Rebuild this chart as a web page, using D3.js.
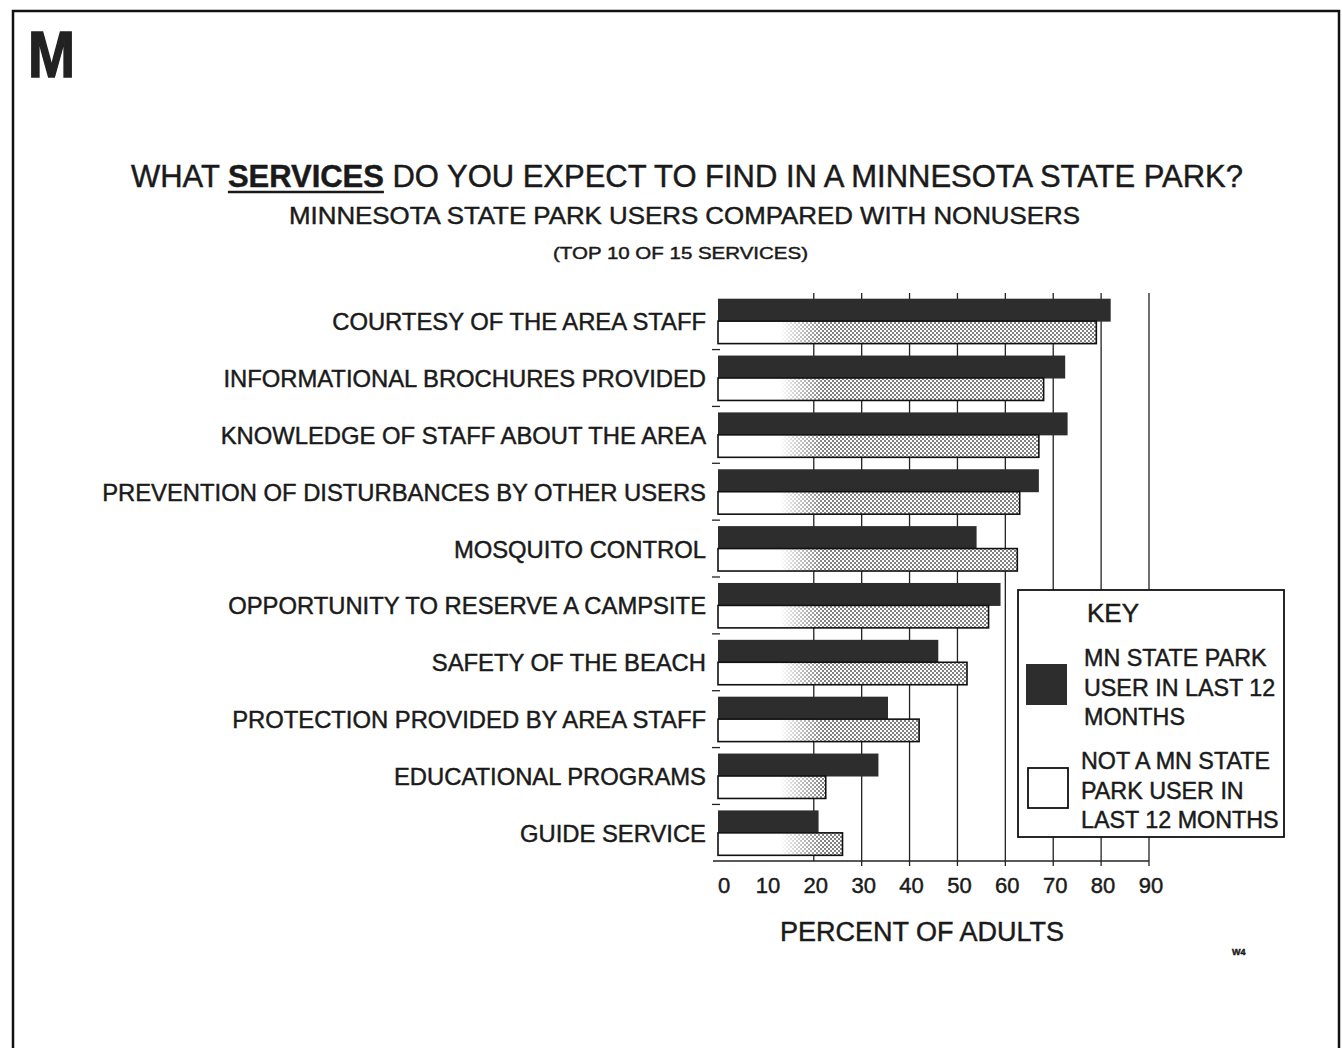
<!DOCTYPE html>
<html>
<head>
<script src="https://cdn.jsdelivr.net/npm/d3@7"></script>
<meta charset="utf-8">
<title>Services expected in a Minnesota state park</title>
<style>
  body { margin: 0; background: #FFF; }
  svg { display: block; }
  text { font-family: "Liberation Sans", Arial, sans-serif; fill: #1a1a1a; stroke: #1a1a1a; stroke-width: 0.45; }
</style>
</head>
<body>
<script>
var categories = [
  'COURTESY OF THE AREA STAFF',
  'INFORMATIONAL BROCHURES PROVIDED',
  'KNOWLEDGE OF STAFF ABOUT THE AREA',
  'PREVENTION OF DISTURBANCES BY OTHER USERS',
  'MOSQUITO CONTROL',
  'OPPORTUNITY TO RESERVE A CAMPSITE',
  'SAFETY OF THE BEACH',
  'PROTECTION PROVIDED BY AREA STAFF',
  'EDUCATIONAL PROGRAMS',
  'GUIDE SERVICE'
];
var users    = [82, 72.5, 73, 67, 54, 59, 46, 35.5, 33.5, 21];   // MN state park user in last 12 months
var nonusers = [79, 68, 67, 63, 62.5, 56.5, 52, 42, 22.5, 26];  // not a MN state park user
var ticks = [0, 10, 20, 30, 40, 50, 60, 70, 80, 90];
var gridTicks = [20, 30, 40, 50, 60, 70, 80, 90];
var keyUser = ['MN STATE PARK', 'USER IN LAST 12', 'MONTHS'];
var keyNon = ['NOT A MN STATE', 'PARK USER IN', 'LAST 12 MONTHS'];

var W = 1342, H = 1048;
var svg = d3.select('body').append('svg').attr('width', W).attr('height', H);

var x = d3.scaleLinear().domain([0, 90]).range([718, 1149]);
var y = d3.scaleBand().domain(categories).range([293, 861]).paddingInner(0.21).paddingOuter(0.1);
var bw = y.bandwidth();
var gap = y.step() - bw;

// defs: stipple + fade mask for the light bars
var defs = svg.append('defs');
var pat = defs.append('pattern').attr('id', 'stip').attr('patternUnits', 'userSpaceOnUse')
  .attr('width', 4).attr('height', 4);
pat.append('circle').attr('cx', 1).attr('cy', 1).attr('r', 0.9).attr('fill', '#444');
pat.append('circle').attr('cx', 3).attr('cy', 3).attr('r', 0.9).attr('fill', '#444');
var grad = defs.append('linearGradient').attr('id', 'fade').attr('gradientUnits', 'userSpaceOnUse')
  .attr('x1', x(13)).attr('x2', x(22)).attr('y1', 0).attr('y2', 0);
grad.append('stop').attr('offset', 0).attr('stop-color', '#000');
grad.append('stop').attr('offset', 1).attr('stop-color', '#fff');
defs.append('mask').attr('id', 'fadeMask').attr('maskUnits', 'userSpaceOnUse')
  .attr('x', 0).attr('y', 0).attr('width', W).attr('height', H)
  .append('rect').attr('width', W).attr('height', H).attr('fill', 'url(#fade)');

// page frame
svg.append('rect').attr('x', 13).attr('y', 11).attr('width', 1326).attr('height', 1100)
  .attr('fill', 'none').attr('stroke', '#111').attr('stroke-width', 2.5);

svg.append('text').attr('x', 28).attr('y', 77).attr('font-size', 64).attr('font-weight', 'bold')
  .attr('textLength', 47).attr('lengthAdjust', 'spacingAndGlyphs')
  .style('fill', '#222').style('stroke', '#222').style('stroke-width', 1.5).text('M');

// titles
var title = svg.append('text').attr('x', 131).attr('y', 187).attr('font-size', 31)
  .attr('textLength', 1112).attr('lengthAdjust', 'spacingAndGlyphs');
title.append('tspan').text('WHAT ');
title.append('tspan').attr('font-weight', 'bold').text('SERVICES');
title.append('tspan').text(' DO YOU EXPECT TO FIND IN A MINNESOTA STATE PARK?');
var tn = title.node();
var ux0 = tn.getStartPositionOfChar(5).x, ux1 = tn.getEndPositionOfChar(12).x;
svg.append('line').attr('x1', ux0).attr('x2', ux1).attr('y1', 192).attr('y2', 192)
  .attr('stroke', '#1a1a1a').attr('stroke-width', 2.5);

svg.append('text').attr('x', 289).attr('y', 224).attr('font-size', 24.5)
  .attr('textLength', 791).attr('lengthAdjust', 'spacingAndGlyphs')
  .text('MINNESOTA STATE PARK USERS COMPARED WITH NONUSERS');
svg.append('text').attr('x', 553).attr('y', 259).attr('font-size', 17)
  .attr('textLength', 255).attr('lengthAdjust', 'spacingAndGlyphs')
  .text('(TOP 10 OF 15 SERVICES)');

// grid lines
svg.append('g').selectAll('line').data(gridTicks).enter().append('line')
  .attr('x1', function(d){ return x(d); }).attr('x2', function(d){ return x(d); })
  .attr('y1', 293).attr('y2', function(d){ return d >= 30 ? 866 : 861; })
  .attr('stroke', '#222').attr('stroke-width', 1.3);

// bottom axis line and left separators
svg.append('line').attr('x1', x(0) - 5).attr('x2', x(90)).attr('y1', 861).attr('y2', 861)
  .attr('stroke', '#222').attr('stroke-width', 1.5);
svg.append('g').selectAll('line').data(categories.slice(1)).enter().append('line')
  .attr('x1', x(0) - 6).attr('x2', x(0) + 2)
  .attr('y1', function(d){ return y(d) - gap / 2; }).attr('y2', function(d){ return y(d) - gap / 2; })
  .attr('stroke', '#222').attr('stroke-width', 1.3);

// bars
var rows = svg.append('g').selectAll('g').data(categories).enter().append('g');
rows.append('rect')
  .attr('x', x(0)).attr('y', function(d){ return y(d); })
  .attr('width', function(d, i){ return x(users[i]) - x(0); })
  .attr('height', bw / 2 + 0.5)
  .attr('fill', '#2d2d2d');
rows.append('rect')
  .attr('x', x(0)).attr('y', function(d){ return y(d) + bw / 2; })
  .attr('width', function(d, i){ return x(nonusers[i]) - x(0); })
  .attr('height', bw / 2)
  .attr('fill', '#fff');
rows.append('rect')
  .attr('x', x(0)).attr('y', function(d){ return y(d) + bw / 2; })
  .attr('width', function(d, i){ return x(nonusers[i]) - x(0); })
  .attr('height', bw / 2)
  .attr('fill', 'url(#stip)').attr('mask', 'url(#fadeMask)');
rows.append('rect')
  .attr('x', x(0)).attr('y', function(d){ return y(d) + bw / 2; })
  .attr('width', function(d, i){ return x(nonusers[i]) - x(0); })
  .attr('height', bw / 2)
  .attr('fill', 'none').attr('stroke', '#111').attr('stroke-width', 1.6);

// category labels
rows.append('text')
  .attr('x', 706).attr('y', function(d){ return y(d) + bw / 2 + 9; })
  .attr('text-anchor', 'end').attr('font-size', 23.8)
  .text(function(d){ return d; });

// tick labels
svg.append('g').selectAll('text').data(ticks).enter().append('text')
  .attr('x', function(d){ return d === 0 ? x(d) + 6 : x(d) + 2; }).attr('y', 893)
  .attr('text-anchor', 'middle').attr('font-size', 22)
  .text(function(d){ return d; });
svg.append('text').attr('x', 922).attr('y', 941).attr('text-anchor', 'middle')
  .attr('font-size', 27).text('PERCENT OF ADULTS');

// key
var key = svg.append('g');
key.append('rect').attr('x', 1018).attr('y', 590).attr('width', 266).attr('height', 247)
  .attr('fill', '#fff').attr('stroke', '#111').attr('stroke-width', 1.8);
key.append('text').attr('x', 1087).attr('y', 622).attr('font-size', 26).text('KEY');
key.append('rect').attr('x', 1026).attr('y', 664).attr('width', 41).attr('height', 41).attr('fill', '#2d2d2d');
key.append('rect').attr('x', 1028).attr('y', 768).attr('width', 40).attr('height', 40)
  .attr('fill', '#fff').attr('stroke', '#111').attr('stroke-width', 1.8);
key.selectAll('.ku').data(keyUser).enter().append('text').attr('class', 'ku')
  .attr('x', 1084).attr('y', function(d, i){ return 666 + i * 29.5; })
  .attr('font-size', 23.3).text(function(d){ return d; });
key.selectAll('.kn').data(keyNon).enter().append('text').attr('class', 'kn')
  .attr('x', 1081).attr('y', function(d, i){ return 769 + i * 29.5; })
  .attr('font-size', 23.3).text(function(d){ return d; });

svg.append('text').attr('x', 1232).attr('y', 955).attr('font-size', 9).attr('font-weight', 'bold').text('W4');
</script>
</body>
</html>
